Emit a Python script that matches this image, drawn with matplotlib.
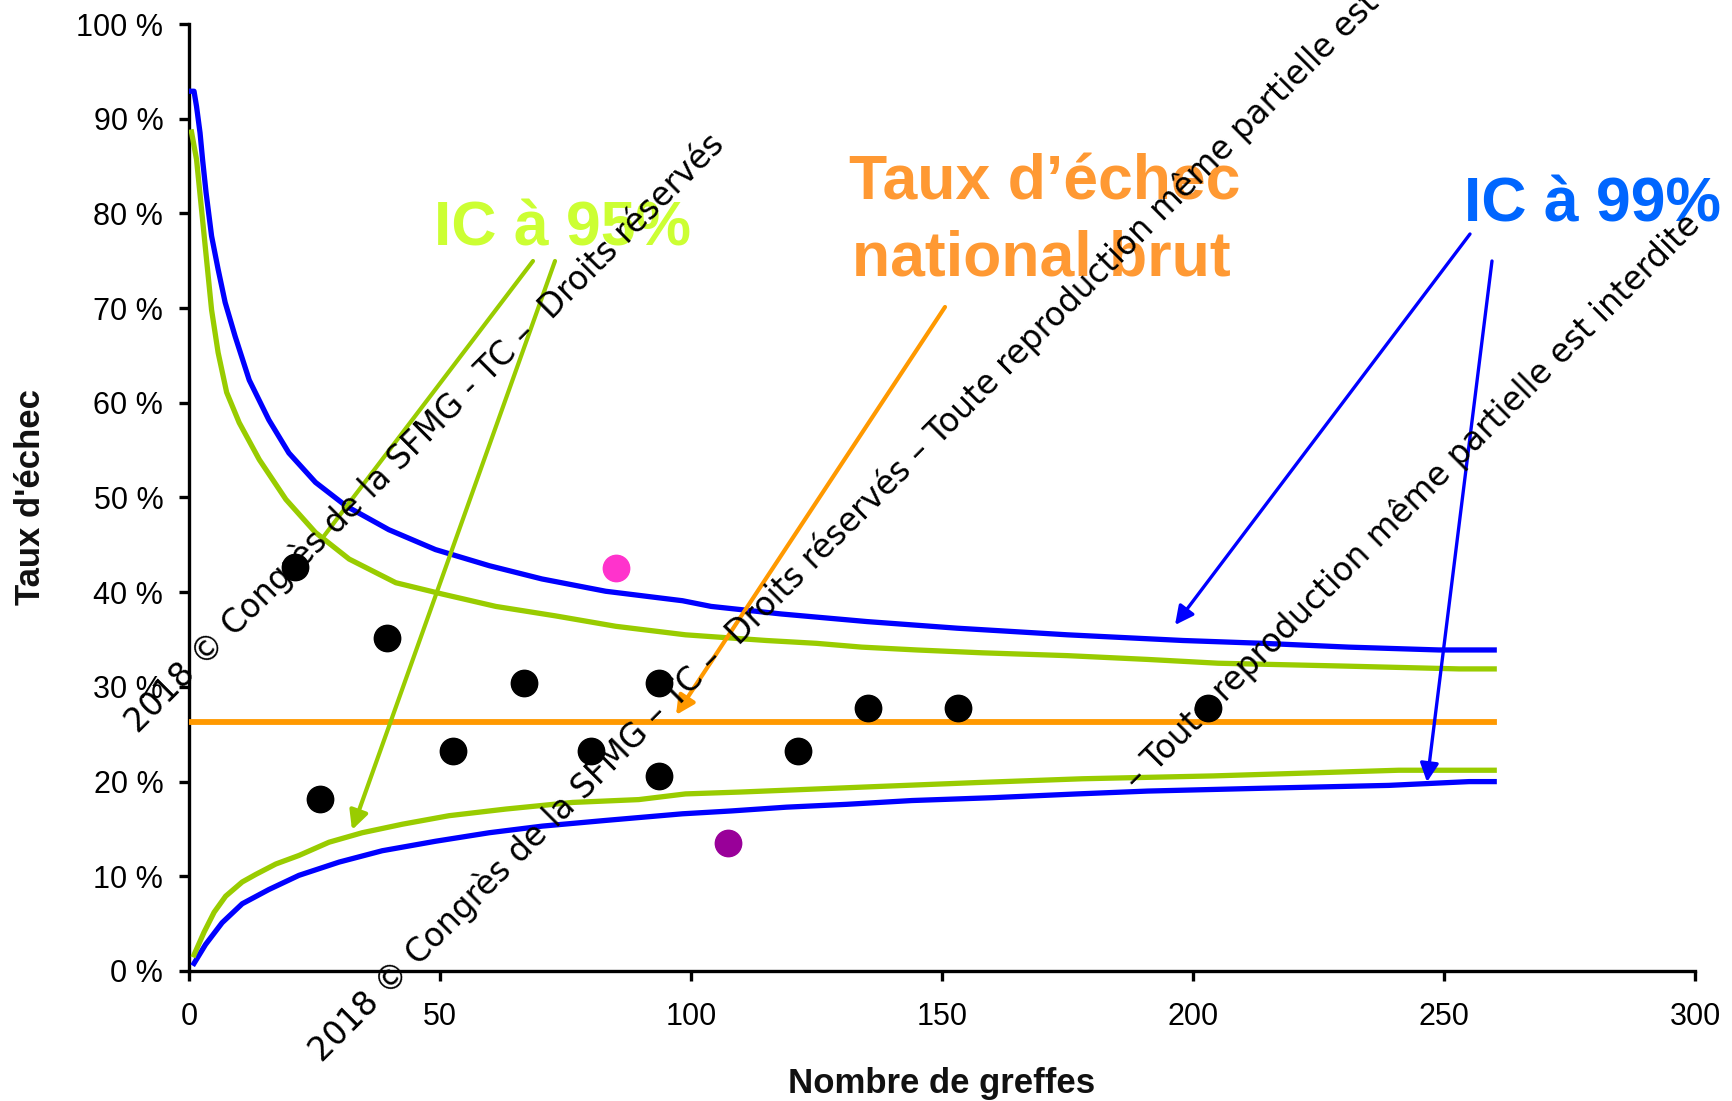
import matplotlib
matplotlib.use("Agg")
import matplotlib.pyplot as plt

# ---------------- data ----------------
# hospital points: number of grafts, failure rate (%)
n_black = [21.1, 26.0, 39.4, 52.6, 66.7, 80.1, 93.6, 93.6, 121.3, 135.2, 153.2, 203.0]
y_black = [42.7, 18.2, 35.2, 23.2, 30.4, 23.2, 30.4, 20.6, 23.2, 27.8, 27.8, 27.8]
n_pink, y_pink = [85.0], [42.6]
n_purple, y_purple = [107.4], [13.5]

national_rate = 26.3
n_range = [0, 260]

# 99% limits (blue)
n_up99 = [0.3, 1.0, 1.5, 2.2, 2.7, 3.4, 4.5, 5.8, 7.2, 9.2, 12.0, 15.9, 19.9, 25.2,
          31.3, 39.8, 49.1, 59.8, 70.3, 83.0, 98.3, 104, 118, 135, 153, 175, 198,
          214, 231, 249, 260]
y_up99 = [92.9, 92.9, 91.3, 88.5, 85.7, 82.2, 77.6, 74.1, 70.6, 67.0, 62.4, 58.2,
          54.7, 51.6, 49.1, 46.6, 44.5, 42.8, 41.4, 40.1, 39.1, 38.5, 37.7, 36.9,
          36.2, 35.5, 34.9, 34.6, 34.2, 33.9, 33.9]
n_lo99 = [1.0, 3.3, 6.6, 10.6, 15.9, 21.9, 29.9, 38.5, 49.1, 59.8, 70.4, 83.0, 98.3,
          108, 119, 131, 144, 160, 177, 191, 214, 239, 255, 260]
y_lo99 = [0.8, 2.8, 5.1, 7.1, 8.6, 10.1, 11.5, 12.7, 13.7, 14.6, 15.3, 15.9, 16.6,
          16.9, 17.3, 17.6, 18.0, 18.3, 18.7, 19.0, 19.3, 19.6, 20.0, 20.0]

# 95% limits (green)
n_up95 = [0.5, 1.5, 2.5, 3.5, 4.5, 5.8, 7.5, 10.0, 14.0, 19.3, 25.2, 31.9, 41.2,
          50.5, 61.1, 73.0, 85.0, 98.9, 115, 125, 134, 145, 158, 175, 191, 205,
          230, 253, 260]
y_up95 = [88.6, 85.7, 80.4, 75.1, 69.8, 65.3, 61.1, 57.9, 54.0, 49.8, 46.3, 43.5,
          41.0, 39.8, 38.5, 37.5, 36.4, 35.5, 34.9, 34.6, 34.2, 33.9, 33.6, 33.3,
          32.9, 32.5, 32.2, 31.9, 31.9]
n_lo95 = [1.0, 3.0, 5.0, 7.3, 10.6, 13.3, 17.3, 21.9, 27.9, 34.5, 42.5, 51.8, 63.1,
          76.4, 89.6, 98.9, 110, 124, 138, 157, 178, 204, 241, 260]
y_lo95 = [1.7, 4.1, 6.2, 7.9, 9.4, 10.2, 11.3, 12.2, 13.6, 14.6, 15.5, 16.4, 17.1,
          17.8, 18.1, 18.7, 18.9, 19.2, 19.5, 19.9, 20.3, 20.6, 21.2, 21.2]

x_ticks = [0, 50, 100, 150, 200, 250, 300]
y_ticks = [0, 10, 20, 30, 40, 50, 60, 70, 80, 90, 100]
y_tick_labels = [f"{v} %" for v in y_ticks]

# ---------------- figure ----------------
W, H = 1733, 1101
fig = plt.figure(figsize=(W / 100, H / 100), dpi=100)
ax = fig.add_axes([189 / W, 1 - 971 / H, (1695 - 189) / W, (971 - 24) / H])

BLUE = "#0000FF"
GREEN = "#99CC00"
ORANGE = "#FF9900"

ax.plot(n_up99, y_up99, color=BLUE, lw=3.8, zorder=3)
ax.plot(n_lo99, y_lo99, color=BLUE, lw=3.8, zorder=3)
ax.plot(n_up95, y_up95, color=GREEN, lw=3.8, zorder=3)
ax.plot(n_lo95, y_lo95, color=GREEN, lw=3.8, zorder=3)
ax.plot(n_range, [national_rate, national_rate], color=ORANGE, lw=4.2, zorder=3)

ax.plot(n_black, y_black, "o", color="black", ms=19, zorder=4)
ax.plot(n_pink, y_pink, "o", color="#FF33CC", ms=19, zorder=4)
ax.plot(n_purple, y_purple, "o", color="#990099", ms=19, zorder=4)

ax.set_xlim(0, 300)
ax.set_ylim(0, 100)
ax.set_xticks(x_ticks)
ax.set_yticks(y_ticks)
ax.set_yticklabels(y_tick_labels)
for s in ["top", "right"]:
    ax.spines[s].set_visible(False)
for s in ["left", "bottom"]:
    ax.spines[s].set_linewidth(2.4)
ax.tick_params(axis="both", direction="out", length=7.5, width=2.4,
               labelsize=22, labelfontfamily="Liberation Sans")
ax.tick_params(axis="y", pad=11)
ax.tick_params(axis="x", pad=15)

fig.text(31 / W, 1 - 497 / H, "Taux d'échec", rotation=90, ha="center", va="center",
         fontsize=25, fontweight="bold", family="Liberation Sans", color="#111111")
fig.text(942 / W, 1 - 1083 / H, "Nombre de greffes", ha="center", va="center",
         fontsize=25, fontweight="bold", family="Liberation Sans", color="#111111")

# ---------------- annotations ----------------
def fp(x, y):
    return (x / W, 1 - y / H)

fig.text(*fp(434, 246), "IC à 95%", color="#CCFF33", fontsize=45, fontweight="bold",
         family="Liberation Sans", ha="left", va="baseline")
fig.text(*fp(849, 200), "Taux d’échec", color="#FF9933", fontsize=45, fontweight="bold",
         family="Liberation Sans", ha="left", va="baseline")
fig.text(*fp(852, 275), "national brut", color="#FF9933", fontsize=45, fontweight="bold",
         family="Liberation Sans", ha="left", va="baseline")
fig.text(*fp(1464, 222), "IC à 99%", color="#0066FF", fontsize=45, fontweight="bold",
         family="Liberation Sans", ha="left", va="baseline")

def arrow(x0, y0, x1, y1, color, lw, head=True):
    style = "-|>" if head else "-"
    ax.annotate("", xy=fp(x1, y1), xycoords="figure fraction",
                xytext=fp(x0, y0), textcoords="figure fraction",
                arrowprops=dict(arrowstyle=style, color=color, lw=lw,
                                mutation_scale=28, shrinkA=0, shrinkB=0),
                annotation_clip=False, zorder=5)

arrow(533, 261, 324, 536, GREEN, 3.0, head=False)
arrow(555, 261, 352, 830, GREEN, 3.0)
arrow(945, 307, 676, 715, ORANGE, 3.0)
arrow(1470, 234, 1175, 625, BLUE, 2.4)
arrow(1492, 261, 1427, 782, BLUE, 2.4)

# ---------------- watermarks ----------------
wm_kw = dict(family="DejaVu Sans", fontsize=23.5, color="black", rotation=45,
             rotation_mode="anchor", zorder=10)
fig.text(*fp(425, 433), "2018 © Congrès de la SFMG - TC –  Droits réservés",
         ha="center", va="center", **wm_kw)
fig.text(*fp(1412, 501), "– Toute reproduction même partielle est interdite",
         ha="center", va="center", **wm_kw)
fig.text(*fp(322, 1063),
         "2018 © Congrès de la SFMG – TC –  Droits réservés – Toute reproduction même partielle est interdite",
         ha="left", va="baseline", **wm_kw)

fig.savefig("out.png", dpi=100)
